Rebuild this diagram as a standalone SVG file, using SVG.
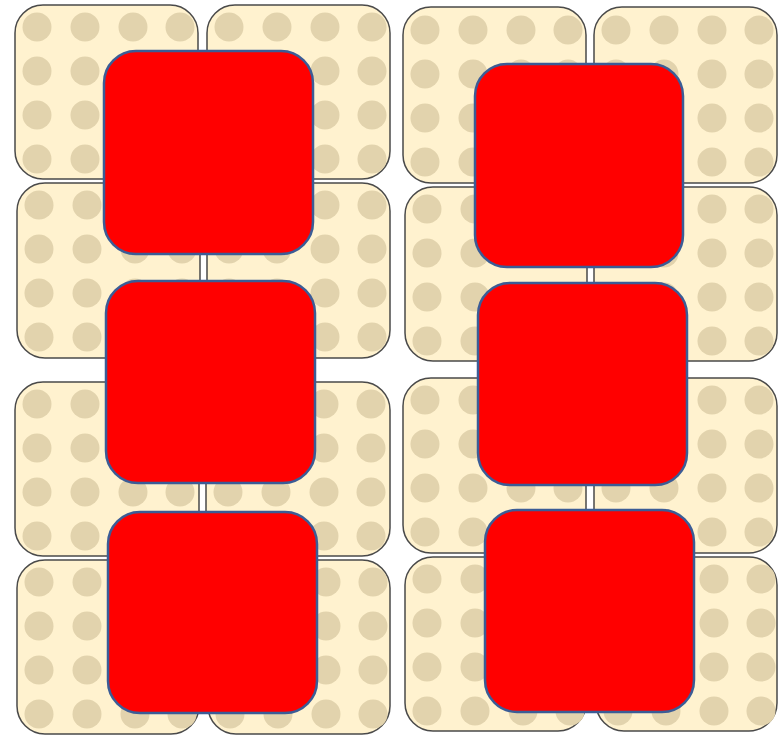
<svg xmlns="http://www.w3.org/2000/svg" xmlns:xlink="http://www.w3.org/1999/xlink" width="782" height="736" viewBox="0 0 782 736">
<style>
.tile{fill:#fff2cf;stroke:#4a4a4a;stroke-width:1.5}
.dot{fill:#e2d3ad}
.red{fill:#ff0000;stroke:#3b5c96;stroke-width:2.5}
</style>
<defs>
<g id="dots">
<circle class="dot" cx="22" cy="22" r="14.5"/><circle class="dot" cx="70" cy="22" r="14.5"/><circle class="dot" cx="118" cy="22" r="14.5"/><circle class="dot" cx="165" cy="22" r="14.5"/>
<circle class="dot" cx="22" cy="66" r="14.5"/><circle class="dot" cx="70" cy="66" r="14.5"/><circle class="dot" cx="118" cy="66" r="14.5"/><circle class="dot" cx="165" cy="66" r="14.5"/>
<circle class="dot" cx="22" cy="110" r="14.5"/><circle class="dot" cx="70" cy="110" r="14.5"/><circle class="dot" cx="118" cy="110" r="14.5"/><circle class="dot" cx="165" cy="110" r="14.5"/>
<circle class="dot" cx="22" cy="154" r="14.5"/><circle class="dot" cx="70" cy="154" r="14.5"/><circle class="dot" cx="118" cy="154" r="14.5"/><circle class="dot" cx="165" cy="154" r="14.5"/>
</g>
</defs>
<g id="tiles">
<g id="t1"><rect class="tile" x="15" y="5" width="183" height="174" rx="28"/><use xlink:href="#dots" x="15" y="5"/></g>
<g id="t2"><rect class="tile" x="207" y="5" width="183" height="174" rx="28"/><use xlink:href="#dots" x="207" y="5"/></g>
<g id="t3"><rect class="tile" x="17" y="183" width="183" height="175" rx="28"/><use xlink:href="#dots" x="17" y="183"/></g>
<g id="t4"><rect class="tile" x="207" y="183" width="183" height="175" rx="28"/><use xlink:href="#dots" x="207" y="183"/></g>
<g id="t5"><rect class="tile" x="15" y="382" width="184" height="174" rx="28"/><use xlink:href="#dots" x="15" y="382"/></g>
<g id="t6"><rect class="tile" x="206" y="382" width="184" height="174" rx="28"/><use xlink:href="#dots" x="206" y="382"/></g>
<g id="t7"><rect class="tile" x="17" y="560" width="182" height="174" rx="28"/><use xlink:href="#dots" x="17" y="560"/></g>
<g id="t8"><rect class="tile" x="208" y="560" width="182" height="174" rx="28"/><use xlink:href="#dots" x="208" y="560"/></g>
<g id="t9"><rect class="tile" x="403" y="7" width="183" height="176" rx="28"/><use xlink:href="#dots" x="403" y="8"/></g>
<g id="t10"><rect class="tile" x="594" y="7" width="183" height="176" rx="28"/><use xlink:href="#dots" x="594" y="8"/></g>
<g id="t11"><rect class="tile" x="405" y="187" width="182" height="174" rx="28"/><use xlink:href="#dots" x="405" y="187"/></g>
<g id="t12"><rect class="tile" x="594" y="187" width="183" height="174" rx="28"/><use xlink:href="#dots" x="594" y="187"/></g>
<g id="t13"><rect class="tile" x="403" y="378" width="183" height="175" rx="28"/><use xlink:href="#dots" x="403" y="378"/></g>
<g id="t14"><rect class="tile" x="594" y="378" width="183" height="175" rx="28"/><use xlink:href="#dots" x="594" y="378"/></g>
<g id="t15"><rect class="tile" x="405" y="557" width="181" height="174" rx="28"/><use xlink:href="#dots" x="405" y="557"/></g>
<g id="t16"><rect class="tile" x="596" y="557" width="181" height="174" rx="28"/><use xlink:href="#dots" x="596" y="557"/></g>
</g>
<g id="connectors"/>
<g id="r1"><rect class="red" x="104" y="51" width="209" height="203" rx="32"/></g>
<g id="r2"><rect class="red" x="106" y="281" width="209" height="202" rx="32"/></g>
<g id="r3"><rect class="red" x="108" y="512" width="209" height="201" rx="32"/></g>
<g id="r4"><rect class="red" x="475" y="64" width="208" height="203" rx="32"/></g>
<g id="r5"><rect class="red" x="478" y="283" width="209" height="202" rx="32"/></g>
<g id="r6"><rect class="red" x="485" y="510" width="209" height="202" rx="32"/></g>
</svg>
